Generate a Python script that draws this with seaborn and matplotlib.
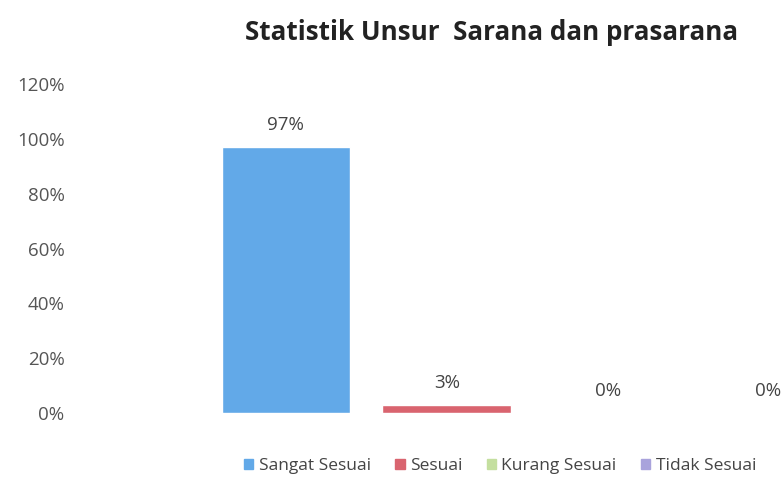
import matplotlib
matplotlib.use("Agg")
import matplotlib.pyplot as plt
import seaborn as sns
import pandas as pd

# data
categories = ["Sangat Sesuai", "Sesuai", "Kurang Sesuai", "Tidak Sesuai"]
values = [0.97, 0.03, 0.0, 0.0]
colors = ["#62a9e8", "#d9646f", "#c4df9f", "#a9a3dc"]
y_ticks = [0, 0.2, 0.4, 0.6, 0.8, 1.0, 1.2]

sns.set_style("white")
plt.rcParams["font.family"] = ["Open Sans", "DejaVu Sans"]

df = pd.DataFrame({"kategori": categories, "nilai": values})

fig = plt.figure(figsize=(7.83, 4.78), dpi=100)
ax = fig.add_axes([70 / 783, 1 - 413 / 478, 1 - 70 / 783, (413 - 84) / 478])

sns.barplot(
    data=df,
    x="kategori",
    y="nilai",
    hue="kategori",
    palette=colors,
    saturation=1,
    dodge=False,
    width=0.8,
    legend=False,
    ax=ax,
)

for i, v in enumerate(values):
    ax.annotate(
        f"{v:.0%}",
        xy=(i, v),
        xytext=(0, 16),
        textcoords="offset points",
        ha="center",
        va="center",
        fontsize=13.5,
        color="#444444",
    )

ax.set_xlim(-1.342, 3.09)
ax.set_ylim(0, 1.2)
ax.set_yticks(y_ticks)
ax.set_yticklabels([f"{t:.0%}" for t in y_ticks], fontsize=13.5, color="#555555")
ax.set_xticks([])
ax.set_xlabel("")
ax.set_ylabel("")
ax.tick_params(axis="y", length=0, pad=4)
sns.despine(ax=ax, left=True, bottom=True)

handles = [plt.Rectangle((0, 0), 1, 1, color=c) for c in colors]
fig.legend(
    handles,
    categories,
    loc="center",
    bbox_to_anchor=(500 / 783, 1 - 466 / 478),
    ncol=4,
    frameon=False,
    fontsize=12.5,
    handlelength=0.55,
    handleheight=0.55,
    handletextpad=0.3,
    columnspacing=1.4,
    labelcolor="#444444",
)

fig.text(
    492 / 783,
    1 - 33 / 478,
    "Statistik Unsur  Sarana dan prasarana",
    ha="center",
    va="center",
    fontsize=18.7,
    fontweight="bold",
    color="#222222",
)

fig.savefig("out.png", dpi=100)
